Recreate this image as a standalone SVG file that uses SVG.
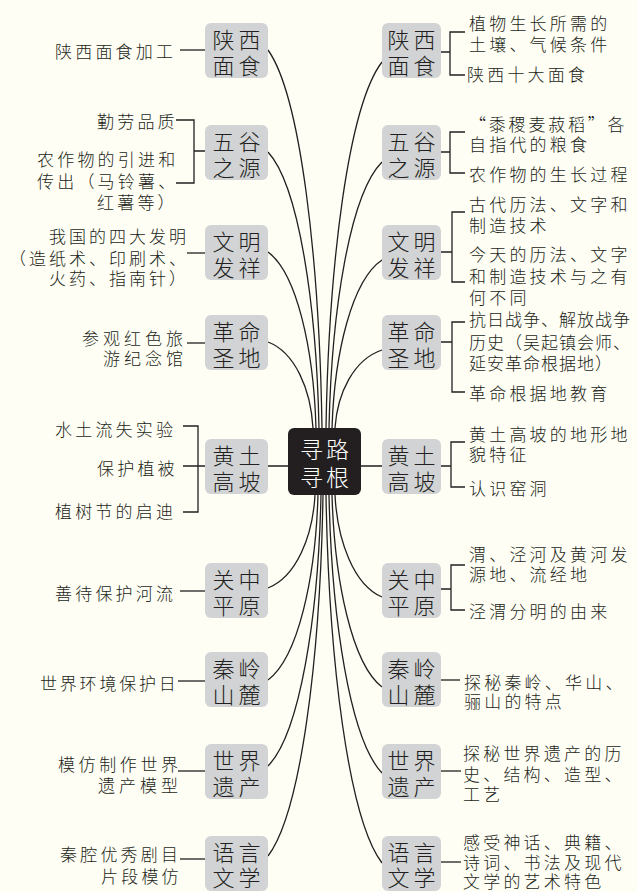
<svg xmlns="http://www.w3.org/2000/svg" width="637" height="892" viewBox="0 0 637 892">
<style>
.bg{fill:#FEFEF4}
.box{fill:#D1D3D5}
.cbox{fill:#231F20}
text{font-family:"Noto Sans CJK SC","Noto Sans CJK TC",sans-serif;dominant-baseline:central;font-weight:300}
.lb{font-size:17px;fill:#231F20;letter-spacing:3.2px}
.nt{font-size:22px;fill:#231F20;letter-spacing:4px}
.ct{font-size:23px;fill:#FFFFFF;letter-spacing:3px}
.ln{fill:none;stroke:#231F20;stroke-width:1.3}
</style>
<rect class="bg" x="0" y="0" width="637" height="892"/>
<g id="connectors">
<path class="ln" d="M268,50 C300.4,95.4 319.3,257.9 322,428"/>
<path class="ln" d="M268,152 C298.6,185.1 316.5,303.8 319,428"/>
<path class="ln" d="M268,252 C296.8,273.1 313.6,348.8 316,428"/>
<path class="ln" d="M268,342 C295,352.3 310.8,389.3 313,428"/>
<path class="ln" d="M382,62 C348.4,105.9 328.8,263.3 326,428"/>
<path class="ln" d="M382,162 C350.2,193.9 331.65,308.3 329,428"/>
<path class="ln" d="M382,260 C352,280.2 334.5,352.4 332,428"/>
<path class="ln" d="M382,350 C353.8,359.4 337.35,392.9 335,428"/>
<path class="ln" d="M268,588 C296.2,576.8 312.65,536.9 315,495"/>
<path class="ln" d="M268,680 C298,657.8 315.5,578.3 318,495"/>
<path class="ln" d="M268,766 C299.8,733.5 318.35,616.95 321,495"/>
<path class="ln" d="M268,856 C301,812.7 320.25,657.5 323,495"/>
<path class="ln" d="M382,597 C353.8,584.8 337.35,540.9 335,495"/>
<path class="ln" d="M382,687 C352,664 334.5,581.4 332,495"/>
<path class="ln" d="M382,773 C350.2,739.6 331.65,620.1 329,495"/>
<path class="ln" d="M382,863 C348.4,818.8 328.8,660.6 326,495"/>
<path class="ln" d="M268,466 H288 M361,466 H382"/>
<path class="ln" d="M180,50 H205"/>
<path class="ln" d="M176,120 H194 V183 H176 M194,151 H205"/>
<path class="ln" d="M187,253 H205"/>
<path class="ln" d="M187,343 H205"/>
<path class="ln" d="M183,426 H198 V512 H183 M183,466 H205"/>
<path class="ln" d="M180,591 H205"/>
<path class="ln" d="M178,681 H205"/>
<path class="ln" d="M178,771 H205"/>
<path class="ln" d="M180,859 H205"/>
<path class="ln" d="M441,52 H450 M465,32 H450 V75 H465"/>
<path class="ln" d="M441,152 H450 M465,132 H450 V173 H465"/>
<path class="ln" d="M441,252 H452 M465,212 H452 V282 H465"/>
<path class="ln" d="M441,342 H452 M465,322 H452 V392 H465"/>
<path class="ln" d="M441,466 H451 M465,442 H451 V487 H465"/>
<path class="ln" d="M441,589 H451 M465,565 H451 V610 H465"/>
<path class="ln" d="M441,680 H460"/>
<path class="ln" d="M441,771 H461"/>
<path class="ln" d="M441,862 H461"/>
</g>
<g id="center">
<rect class="cbox" x="288" y="428" width="73" height="67" rx="6"/>
<text class="ct"><tspan x="300" y="448">寻路</tspan><tspan x="300" y="476">寻根</tspan></text>
</g>
<g id="n-shaanxi-l"><rect class="box" x="205" y="23" width="63" height="55" rx="6"/><text class="nt"><tspan x="212.5" y="38">陕西</tspan><tspan x="212.5" y="64">面食</tspan></text></g>
<g id="n-wugu-l"><rect class="box" x="205" y="125" width="63" height="55" rx="6"/><text class="nt"><tspan x="212.5" y="140">五谷</tspan><tspan x="212.5" y="166">之源</tspan></text></g>
<g id="n-wenming-l"><rect class="box" x="205" y="225" width="63" height="55" rx="6"/><text class="nt"><tspan x="212.5" y="240">文明</tspan><tspan x="212.5" y="266">发祥</tspan></text></g>
<g id="n-geming-l"><rect class="box" x="205" y="315" width="63" height="55" rx="6"/><text class="nt"><tspan x="212.5" y="330">革命</tspan><tspan x="212.5" y="356">圣地</tspan></text></g>
<g id="n-huangtu-l"><rect class="box" x="205" y="439" width="63" height="55" rx="6"/><text class="nt"><tspan x="212.5" y="454">黄土</tspan><tspan x="212.5" y="480">高坡</tspan></text></g>
<g id="n-guanzhong-l"><rect class="box" x="205" y="563" width="63" height="55" rx="6"/><text class="nt"><tspan x="212.5" y="578">关中</tspan><tspan x="212.5" y="604">平原</tspan></text></g>
<g id="n-qinling-l"><rect class="box" x="205" y="652" width="63" height="55" rx="6"/><text class="nt"><tspan x="212.5" y="667">秦岭</tspan><tspan x="212.5" y="693">山麓</tspan></text></g>
<g id="n-yichan-l"><rect class="box" x="205" y="744" width="63" height="55" rx="6"/><text class="nt"><tspan x="212.5" y="759">世界</tspan><tspan x="212.5" y="785">遗产</tspan></text></g>
<g id="n-yuyan-l"><rect class="box" x="205" y="836" width="63" height="55" rx="6"/><text class="nt"><tspan x="212.5" y="851">语言</tspan><tspan x="212.5" y="876">文学</tspan></text></g>
<g id="n-shaanxi-r"><rect class="box" x="382" y="23" width="59" height="55" rx="6"/><text class="nt"><tspan x="387.5" y="38">陕西</tspan><tspan x="387.5" y="64">面食</tspan></text></g>
<g id="n-wugu-r"><rect class="box" x="382" y="125" width="59" height="55" rx="6"/><text class="nt"><tspan x="387.5" y="140">五谷</tspan><tspan x="387.5" y="166">之源</tspan></text></g>
<g id="n-wenming-r"><rect class="box" x="382" y="225" width="59" height="55" rx="6"/><text class="nt"><tspan x="387.5" y="240">文明</tspan><tspan x="387.5" y="266">发祥</tspan></text></g>
<g id="n-geming-r"><rect class="box" x="382" y="315" width="59" height="55" rx="6"/><text class="nt"><tspan x="387.5" y="330">革命</tspan><tspan x="387.5" y="356">圣地</tspan></text></g>
<g id="n-huangtu-r"><rect class="box" x="382" y="439" width="59" height="55" rx="6"/><text class="nt"><tspan x="387.5" y="454">黄土</tspan><tspan x="387.5" y="480">高坡</tspan></text></g>
<g id="n-guanzhong-r"><rect class="box" x="382" y="563" width="59" height="55" rx="6"/><text class="nt"><tspan x="387.5" y="578">关中</tspan><tspan x="387.5" y="604">平原</tspan></text></g>
<g id="n-qinling-r"><rect class="box" x="382" y="652" width="59" height="55" rx="6"/><text class="nt"><tspan x="387.5" y="667">秦岭</tspan><tspan x="387.5" y="693">山麓</tspan></text></g>
<g id="n-yichan-r"><rect class="box" x="382" y="744" width="59" height="55" rx="6"/><text class="nt"><tspan x="387.5" y="759">世界</tspan><tspan x="387.5" y="785">遗产</tspan></text></g>
<g id="n-yuyan-r"><rect class="box" x="382" y="836" width="59" height="55" rx="6"/><text class="nt"><tspan x="387.5" y="851">语言</tspan><tspan x="387.5" y="876">文学</tspan></text></g>
<g id="labels-left">
<g id="t-l1"><text class="lb" x="55" y="50">陕西面食加工</text></g>
<g id="t-l2a"><text class="lb" x="97" y="120">勤劳品质</text></g>
<g id="t-l2b"><text class="lb"><tspan x="37" y="158">农作物的引进和</tspan><tspan x="37" y="180">传出（马铃薯、</tspan><tspan x="97" y="201">红薯等）</tspan></text></g>
<g id="t-l3"><text class="lb" style="letter-spacing:3px"><tspan x="49" y="235">我国的四大发明</tspan><tspan x="9" y="257">（造纸术、印刷术、</tspan><tspan x="49" y="277">火药、指南针）</tspan></text></g>
<g id="t-l4"><text class="lb" style="letter-spacing:4px"><tspan x="82" y="337">参观红色旅</tspan><tspan x="103" y="357">游纪念馆</tspan></text></g>
<g id="t-l5a"><text class="lb" x="55" y="428">水土流失实验</text></g>
<g id="t-l5b"><text class="lb" x="97" y="467">保护植被</text></g>
<g id="t-l5c"><text class="lb" x="55" y="510">植树节的启迪</text></g>
<g id="t-l6"><text class="lb" x="55" y="592">善待保护河流</text></g>
<g id="t-l7"><text class="lb" x="40" y="682" style="letter-spacing:2.8px">世界环境保护日</text></g>
<g id="t-l8"><text class="lb" style="letter-spacing:3.6px"><tspan x="58" y="763">模仿制作世界</tspan><tspan x="98" y="784" style="letter-spacing:4px">遗产模型</tspan></text></g>
<g id="t-l9"><text class="lb"><tspan x="60" y="853">秦腔优秀剧目</tspan><tspan x="101" y="875">片段模仿</tspan></text></g>
</g>
<g id="labels-right">
<g id="t-r1a"><text class="lb"><tspan x="469" y="22">植物生长所需的</tspan><tspan x="469" y="43">土壤、气候条件</tspan></text></g>
<g id="t-r1b"><text class="lb" x="467" y="73">陕西十大面食</text></g>
<g id="t-r2a"><text class="lb"><tspan x="469 488.8 508.6 528.4 548.2 568 587.8 607.6" y="123" style="letter-spacing:0">“黍稷麦菽稻”各</tspan><tspan x="469" y="143">自指代的粮食</tspan></text></g>
<g id="t-r2b"><text class="lb" x="469" y="173">农作物的生长过程</text></g>
<g id="t-r3a"><text class="lb"><tspan x="469" y="203">古代历法、文字和</tspan><tspan x="469" y="224">制造技术</tspan></text></g>
<g id="t-r3b"><text class="lb"><tspan x="469" y="253">今天的历法、文字</tspan><tspan x="469" y="274.5">和制造技术与之有</tspan><tspan x="469" y="296">何不同</tspan></text></g>
<g id="t-r4a"><text class="lb" style="letter-spacing:1px"><tspan x="469" y="318">抗日战争、解放战争</tspan><tspan x="469" y="341">历史（吴起镇会师、</tspan><tspan x="469" y="362">延安革命根据地）</tspan></text></g>
<g id="t-r4b"><text class="lb" x="469" y="392">革命根据地教育</text></g>
<g id="t-r5a"><text class="lb"><tspan x="469" y="433">黄土高坡的地形地</tspan><tspan x="469" y="453">貌特征</tspan></text></g>
<g id="t-r5b"><text class="lb" x="469" y="487">认识窑洞</text></g>
<g id="t-r6a"><text class="lb"><tspan x="469" y="553">渭、泾河及黄河发</tspan><tspan x="469" y="573">源地、流经地</tspan></text></g>
<g id="t-r6b"><text class="lb" x="469" y="610">泾渭分明的由来</text></g>
<g id="t-r7"><text class="lb"><tspan x="464" y="681">探秘秦岭、华山、</tspan><tspan x="464" y="700">骊山的特点</tspan></text></g>
<g id="t-r8"><text class="lb"><tspan x="463" y="752">探秘世界遗产的历</tspan><tspan x="463" y="773">史、结构、造型、</tspan><tspan x="463" y="793">工艺</tspan></text></g>
<g id="t-r9"><text class="lb"><tspan x="463" y="841">感受神话、典籍、</tspan><tspan x="463" y="861">诗词、书法及现代</tspan><tspan x="463" y="880">文学的艺术特色</tspan></text></g>
</g>
</svg>
